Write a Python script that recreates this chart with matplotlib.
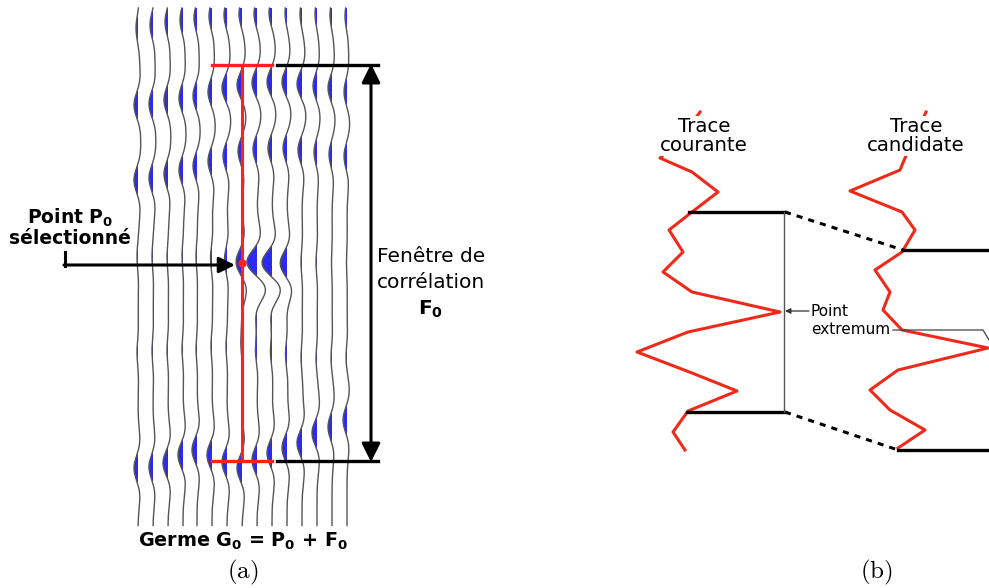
import numpy as np
import matplotlib
matplotlib.use("Agg")
import matplotlib.pyplot as plt

# ---- panel (a) : traces sismiques (positions en pixels de l'image)
trace_x = [138, 153, 168, 183, 197, 212, 227, 242, 257, 272, 287, 302, 317, 332, 347]

# evenements : temps (y) et amplitude (px, positif = lobe a gauche rempli en bleu) par trace
ev1_y = [28, 25, 22, 20, 18, 16, 15, 14, 14, 13, 13, 14, 14, 15, 16]
ev1_a = [2, 3, 3, 3, 3, 3, 3, 3, 3, 3, 2, 2, 2, 2, 2]
ev2_y = [105, 104, 100, 98, 96, 92, 88, 85, 83, 82, 82, 84, 86, 88, 92]
ev2_a = [4, 4, 4, 4, 4, 4, 5, 5, 5, 5, 5, 5, 4, 4, 3]
ev3_y = [180, 178, 174, 170, 166, 161, 156, 151, 149, 148, 148, 150, 152, 154, 156]
ev3_a = [4, 4, 4, 4, 4, 4, 4, 4, 4, 4, 4, 4, 3, 3, 3]
ev4_y = [256, 256, 256, 256, 256, 258, 260, 262, 263, 264, 264, 262, 262, 262, 262]
ev4_a = [1, 1, 1, 1, 1, 1.5, 2.5, 5, 8, 8, 6, 1, 1, 0.5, 0.5]
ev5_y = [290, 290, 290, 290, 290, 290, 290, 290, 288, 288, 288, 290, 290, 290, 290]
ev5_a = [0, 0, 0, 0, 0, 0, 0, -2, -5, -5, -2, 0, 0, 0, 0]
ev6_y = [352, 350, 350, 348, 348, 346, 346, 344, 350, 352, 354, 356, 358, 358, 358]
ev6_a = [1, 1, 1, 1, 1, 1, 1, 1, 1.5, 1.5, 1.5, 1, 1, 1, 1]
ev7_y = [468, 467, 463, 455, 450, 455, 462, 468, 460, 453, 448, 443, 433, 427, 420]
ev7_a = [4, 4, 5, 5, 5, 5, 5, 5, 5, 5, 5, 5, 5, 4, 4]
events = [(ev1_y, ev1_a), (ev2_y, ev2_a), (ev3_y, ev3_a), (ev4_y, ev4_a),
          (ev5_y, ev5_a), (ev6_y, ev6_a), (ev7_y, ev7_a)]

# ---- panel (b) : traces rouges
courante_x = [700, 683, 660, 692, 718, 692, 669, 683, 663, 692, 780, 688, 637, 692, 737, 688, 673, 685]
courante_y = [112, 136, 158, 172, 192, 212, 230, 252, 272, 292, 312, 332, 352, 373, 391, 411, 432, 450]
candidate_x = [926, 905, 900, 850, 902, 915, 902, 875, 890, 883, 902, 988, 898, 870, 890, 925, 898]
candidate_y = [112, 158, 170, 191, 212, 230, 252, 270, 292, 310, 330, 348, 370, 390, 410, 430, 448]

fig = plt.figure(figsize=(9.89, 5.88), dpi=100)
ax = fig.add_axes([0, 0, 1, 1])
ax.set_xlim(0, 989)
ax.set_ylim(588, 0)
ax.axis("off")

# traces sismiques (wiggle + aire variable)
yy = np.arange(8, 526, 0.5)
s = 17.0
for i, xb in enumerate(trace_x):
    dx = np.zeros_like(yy)
    for ey, ea in events:
        t = (yy - ey[i]) / s
        dx += ea[i] * (1 - t ** 2) * np.exp(-t ** 2 / 2)
    xt = xb - dx
    ax.fill_betweenx(yy, xb, xt, where=xt < xb, color="#2b2bf0", lw=0, zorder=1)
    ax.plot(xt, yy, color="#555555", lw=1.0, zorder=2)

# germe : barres rouges + point selectionne
ax.plot([242, 242], [65, 461], color="#ff2020", lw=2.2, zorder=4)
ax.plot([212, 272], [65, 65], color="#ff2020", lw=2.4, zorder=4)
ax.plot([212, 272], [461, 461], color="#ff2020", lw=2.4, zorder=4)
ax.plot([242], [263], "o", color="#ff2020", ms=5, zorder=5)

# fenetre de correlation
ax.plot([277, 378], [65, 65], color="black", lw=2.4, zorder=4)
ax.plot([277, 378], [461, 461], color="black", lw=2.4, zorder=4)
ax.annotate("", xy=(371, 64), xytext=(371, 462),
            arrowprops=dict(arrowstyle="<|-|>", lw=2.2, color="black",
                            mutation_scale=28, shrinkA=0, shrinkB=0), zorder=4)

# fleche du point P0
ax.plot([65, 65], [252, 266], color="black", lw=2.2, zorder=4)
ax.annotate("", xy=(235, 265), xytext=(64, 265),
            arrowprops=dict(arrowstyle="-|>", lw=2.2, color="black",
                            mutation_scale=24, shrinkA=0, shrinkB=0), zorder=4)

ax.text(70, 218, r"Point P$_\mathbf{0}$", fontsize=13.5, fontweight="bold", ha="center", va="center")
ax.text(70, 239, "sélectionné", fontsize=13.5, fontweight="bold", ha="center", va="center")
ax.text(431, 256, "Fenêtre de", fontsize=14.5, ha="center", va="center")
ax.text(431, 282, "corrélation", fontsize=14.5, ha="center", va="center")
ax.text(431, 309, r"F$_\mathbf{0}$", fontsize=14.5, fontweight="bold", ha="center", va="center")
ax.text(243, 541, r"Germe G$_\mathbf{0}$ = P$_\mathbf{0}$ + F$_\mathbf{0}$", fontsize=13.8,
        fontweight="bold", ha="center", va="center")
ax.text(243, 572, r"$\mathrm{(a)}$", fontsize=18, ha="center", va="center", math_fontfamily="cm")

# ---- panel (b)
ax.plot(courante_x, courante_y, color="#f02a1a", lw=2.2, zorder=2)
ax.plot(candidate_x, candidate_y, color="#f02a1a", lw=2.2, zorder=2)

ax.plot([689, 785], [212, 212], color="black", lw=2.4, zorder=3)
ax.plot([687, 785], [412, 412], color="black", lw=2.4, zorder=3)
ax.plot([903, 989], [250, 250], color="black", lw=2.4, zorder=3)
ax.plot([898, 989], [450, 450], color="black", lw=2.4, zorder=3)
ax.plot([785, 903], [212, 250], color="black", lw=2.2, ls=(0, (2, 2)), zorder=3)
ax.plot([785, 898], [412, 450], color="black", lw=2.2, ls=(0, (2, 2)), zorder=3)
ax.plot([784, 784], [212, 412], color="#555555", lw=1.0, zorder=3)

ax.annotate("", xy=(785, 311), xytext=(809, 311),
            arrowprops=dict(arrowstyle="-|>", lw=0.9, color="#333333",
                            mutation_scale=8, shrinkA=0, shrinkB=0))
ax.plot([893, 983, 989], [330, 330, 340], color="#444444", lw=0.9, zorder=3)
ax.text(811, 311, "Point", fontsize=11, ha="left", va="center")
ax.text(811, 329, "extremum", fontsize=11, ha="left", va="center")

ax.text(704, 136, "Trace\ncourante", fontsize=14.2, ha="center", va="center", linespacing=1.0,
        bbox=dict(facecolor="white", edgecolor="none", pad=0.5), zorder=5)
ax.text(916, 136, "Trace\ncandidate", fontsize=14.2, ha="center", va="center", linespacing=1.0,
        bbox=dict(facecolor="white", edgecolor="none", pad=0.5), zorder=5)
ax.text(876, 572, r"$\mathrm{(b)}$", fontsize=18, ha="center", va="center", math_fontfamily="cm")

fig.savefig("out.png", dpi=100)
